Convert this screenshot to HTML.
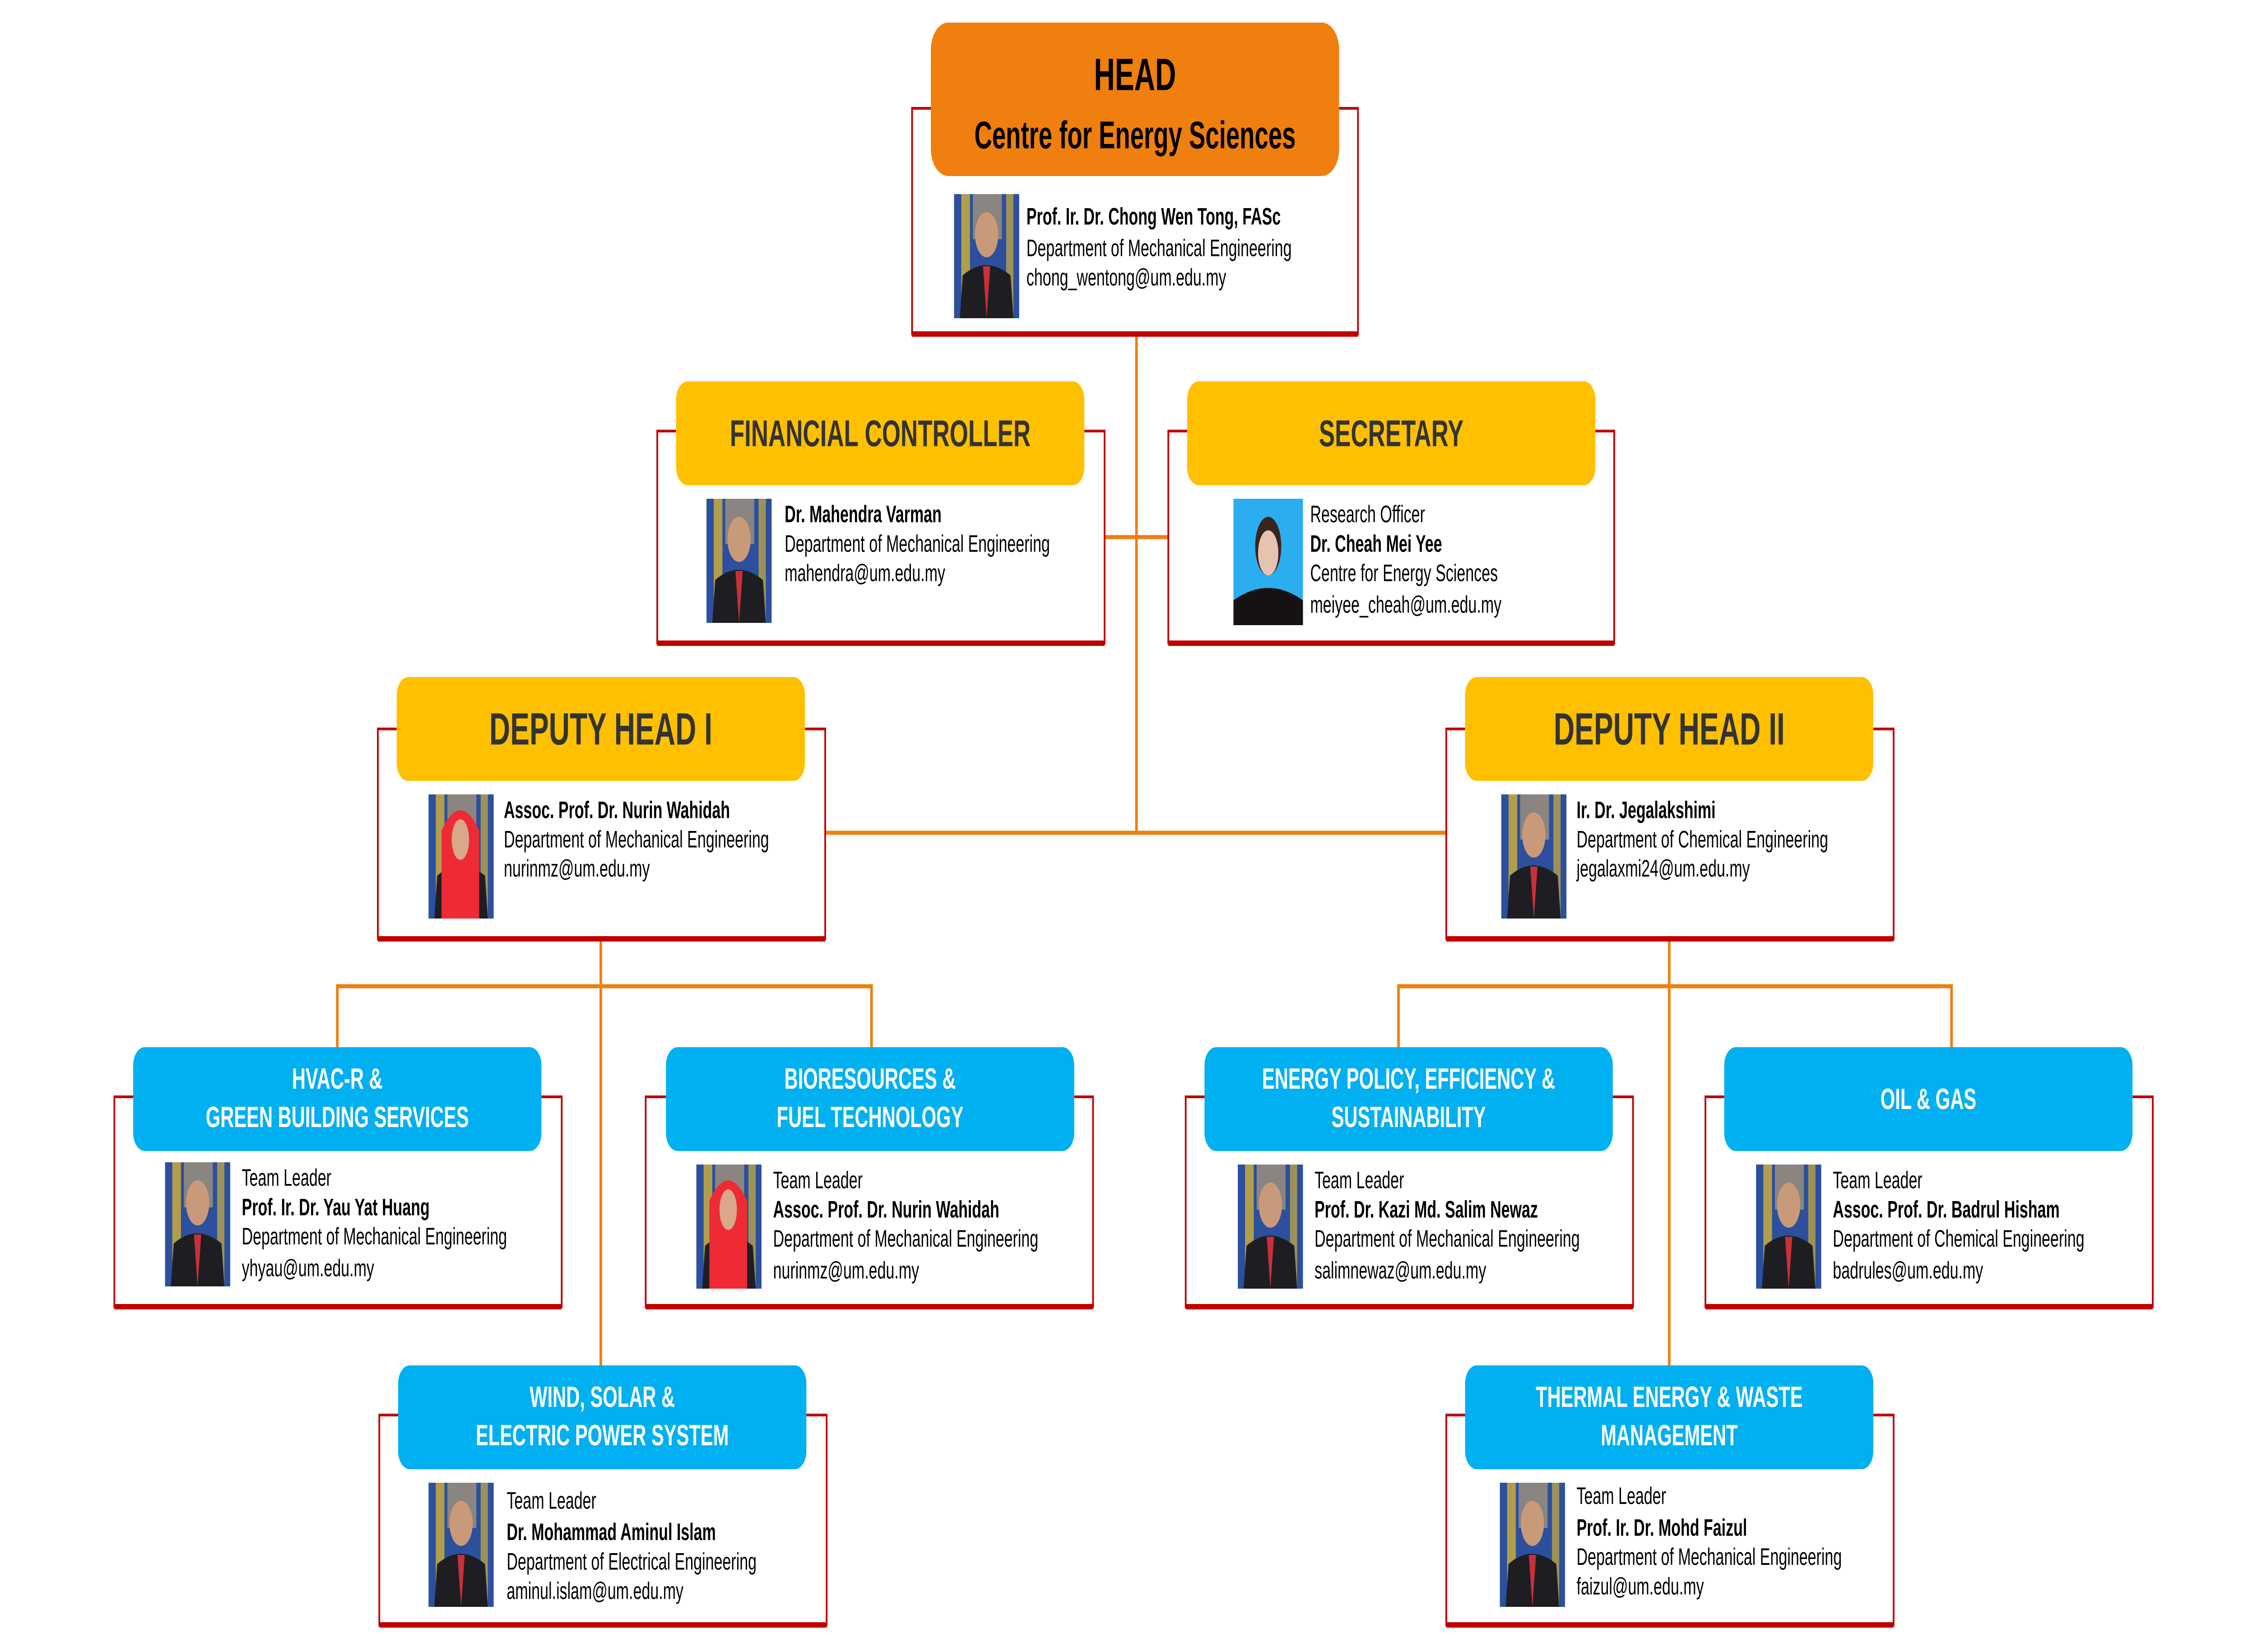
<!DOCTYPE html>
<html><head><meta charset="utf-8">
<style>
html,body{margin:0;padding:0;background:#fff;width:100%;height:100%;overflow:hidden}
svg{display:block;position:fixed;left:0;top:0;width:100vw;height:100vh}
.b{font-family:"Liberation Sans Narrow","Liberation Sans",sans-serif;font-size:10.6px;fill:#000;dominant-baseline:central}
.bb{font-weight:bold}
.t{font-family:"Liberation Sans","Liberation Sans Narrow",sans-serif;font-weight:bold;text-anchor:middle;dominant-baseline:central}
.fr{fill:none;stroke:#C00000;stroke-width:1.2}
.frb{stroke:#C00000;stroke-width:2.4}
.con{stroke:#EE7F0F;stroke-width:1.8;fill:none}
</style></head><body>
<svg viewBox="0 0 1559 732" preserveAspectRatio="none" xmlns="http://www.w3.org/2000/svg">
<defs>
<g id="ph">
<rect x="0" y="0" width="45" height="55" fill="#2c4f9e"/>
<rect x="5" y="0" width="6" height="55" fill="#e8c02a" opacity="0.7"/>
<rect x="36" y="0" width="5" height="55" fill="#e8c02a" opacity="0.6"/>
<rect x="13" y="0" width="20" height="20" fill="#8a8580"/>
<ellipse cx="22.5" cy="18" rx="8" ry="10" fill="#c99a7a"/>
<path d="M4 55 L6 36 Q22 27 39 36 L41 55 Z" fill="#1e1e22"/>
<path d="M20 32 L22.5 55 L25 32 Z" fill="#c8303a"/>
</g>
</defs>
<path class="con" d="M785 148 V369 M763 238 H807 M570 369 H999"/>
<path class="con" d="M415 416 V605 M233 464 V437 H602 V464"/>
<path class="con" d="M1153 416 V605 M966 464 V437 H1348 V464"/>

<path class="fr" d="M643 48 H630 V148 H938 V48 H925"/><line class="frb" x1="630" y1="148" x2="938" y2="148"/>
<rect x="643" y="10" width="282" height="68" rx="12" fill="#EF7F0E"/>
<text class="t" x="784" y="33" font-size="20" fill="#000">HEAD</text>
<text class="t" x="784" y="60" font-size="17" fill="#000">Centre for Energy Sciences</text>
<use href="#ph" x="659" y="86"/>
<text class="b bb" x="709" y="96">Prof. Ir. Dr. Chong Wen Tong, FASc</text>
<text class="b" x="709" y="110">Department of Mechanical Engineering</text>
<text class="b" x="709" y="123">chong_wentong@um.edu.my</text>

<path class="fr" d="M467 191 H454 V285 H763 V191 H749"/><line class="frb" x1="454" y1="285" x2="763" y2="285"/>
<rect x="467" y="169" width="282" height="46" rx="8" fill="#FFC000"/>
<text class="t" x="608" y="192" font-size="16.5" fill="#333">FINANCIAL CONTROLLER</text>
<use href="#ph" x="488" y="221"/>
<text class="b bb" x="542" y="228">Dr. Mahendra Varman</text>
<text class="b" x="542" y="241">Department of Mechanical Engineering</text>
<text class="b" x="542" y="254">mahendra@um.edu.my</text>

<path class="fr" d="M820 191 H807 V285 H1115 V191 H1102"/><line class="frb" x1="807" y1="285" x2="1115" y2="285"/>
<rect x="820" y="169" width="282" height="46" rx="8" fill="#FFC000"/>
<text class="t" x="961" y="192" font-size="16.5" fill="#333">SECRETARY</text>
<rect x="852" y="221" width="48" height="56" fill="#2aaef0"/>
<ellipse cx="876" cy="242" rx="9" ry="13" fill="#3a2420"/>
<ellipse cx="876" cy="245" rx="7" ry="10" fill="#e6c2b0"/>
<path d="M852 277 V266 Q876 255 900 266 V277 Z" fill="#161214"/>
<text class="b" x="905" y="228">Research Officer</text>
<text class="b bb" x="905" y="241">Dr. Cheah Mei Yee</text>
<text class="b" x="905" y="254">Centre for Energy Sciences</text>
<text class="b" x="905" y="268">meiyee_cheah@um.edu.my</text>

<path class="fr" d="M274 323 H261 V416 H570 V323 H556"/><line class="frb" x1="261" y1="416" x2="570" y2="416"/>
<rect x="274" y="300" width="282" height="46" rx="8" fill="#FFC000"/>
<text class="t" x="415" y="323" font-size="20" fill="#333">DEPUTY HEAD I</text>
<use href="#ph" x="296" y="352"/>
<path d="M305 407 V368 Q318 350 331 368 V407 Z" fill="#ee2a35"/>
<ellipse cx="318" cy="372" rx="6" ry="9" fill="#d8a888"/>
<text class="b bb" x="348" y="359">Assoc. Prof. Dr. Nurin Wahidah</text>
<text class="b" x="348" y="372">Department of Mechanical Engineering</text>
<text class="b" x="348" y="385">nurinmz@um.edu.my</text>

<path class="fr" d="M1012 323 H999 V416 H1308 V323 H1294"/><line class="frb" x1="999" y1="416" x2="1308" y2="416"/>
<rect x="1012" y="300" width="282" height="46" rx="8" fill="#FFC000"/>
<text class="t" x="1153" y="323" font-size="20" fill="#333">DEPUTY HEAD II</text>
<use href="#ph" x="1037" y="352"/>
<text class="b bb" x="1089" y="359">Ir. Dr. Jegalakshimi</text>
<text class="b" x="1089" y="372">Department of Chemical Engineering</text>
<text class="b" x="1089" y="385">jegalaxmi24@um.edu.my</text>

<path class="fr" d="M92 486 H79 V579 H388 V486 H374"/><line class="frb" x1="79" y1="579" x2="388" y2="579"/>
<rect x="92" y="464" width="282" height="46" rx="8" fill="#00B0F0"/>
<text class="t" x="233" y="478" font-size="13" fill="#fff">HVAC-R &amp;</text>
<text class="t" x="233" y="495" font-size="13" fill="#fff">GREEN BUILDING SERVICES</text>
<use href="#ph" x="114" y="515"/>
<text class="b" x="167" y="522">Team Leader</text>
<text class="b bb" x="167" y="535">Prof. Ir. Dr. Yau Yat Huang</text>
<text class="b" x="167" y="548">Department of Mechanical Engineering</text>
<text class="b" x="167" y="562">yhyau@um.edu.my</text>

<path class="fr" d="M460 486 H446 V579 H755 V486 H742"/><line class="frb" x1="446" y1="579" x2="755" y2="579"/>
<rect x="460" y="464" width="282" height="46" rx="8" fill="#00B0F0"/>
<text class="t" x="601" y="478" font-size="13" fill="#fff">BIORESOURCES &amp;</text>
<text class="t" x="601" y="495" font-size="13" fill="#fff">FUEL TECHNOLOGY</text>
<use href="#ph" x="481" y="516"/>
<path d="M490 571 V532 Q503 514 516 532 V571 Z" fill="#ee2a35"/>
<ellipse cx="503" cy="536" rx="6" ry="9" fill="#d8a888"/>
<text class="b" x="534" y="523">Team Leader</text>
<text class="b bb" x="534" y="536">Assoc. Prof. Dr. Nurin Wahidah</text>
<text class="b" x="534" y="549">Department of Mechanical Engineering</text>
<text class="b" x="534" y="563">nurinmz@um.edu.my</text>

<path class="fr" d="M832 486 H819 V579 H1128 V486 H1114"/><line class="frb" x1="819" y1="579" x2="1128" y2="579"/>
<rect x="832" y="464" width="282" height="46" rx="8" fill="#00B0F0"/>
<text class="t" x="973" y="478" font-size="13" fill="#fff">ENERGY POLICY, EFFICIENCY &amp;</text>
<text class="t" x="973" y="495" font-size="13" fill="#fff">SUSTAINABILITY</text>
<use href="#ph" x="855" y="516"/>
<text class="b" x="908" y="523">Team Leader</text>
<text class="b bb" x="908" y="536">Prof. Dr. Kazi Md. Salim Newaz</text>
<text class="b" x="908" y="549">Department of Mechanical Engineering</text>
<text class="b" x="908" y="563">salimnewaz@um.edu.my</text>

<path class="fr" d="M1191 486 H1178 V579 H1487 V486 H1473"/><line class="frb" x1="1178" y1="579" x2="1487" y2="579"/>
<rect x="1191" y="464" width="282" height="46" rx="8" fill="#00B0F0"/>
<text class="t" x="1332" y="487" font-size="13" fill="#fff">OIL  &amp; GAS</text>
<use href="#ph" x="1213" y="516"/>
<text class="b" x="1266" y="523">Team Leader</text>
<text class="b bb" x="1266" y="536">Assoc. Prof. Dr. Badrul Hisham</text>
<text class="b" x="1266" y="549">Department of Chemical Engineering</text>
<text class="b" x="1266" y="563">badrules@um.edu.my</text>

<path class="fr" d="M275 627 H262 V720 H571 V627 H557"/><line class="frb" x1="262" y1="720" x2="571" y2="720"/>
<rect x="275" y="605" width="282" height="46" rx="8" fill="#00B0F0"/>
<text class="t" x="416" y="619" font-size="13" fill="#fff">WIND, SOLAR &amp;</text>
<text class="t" x="416" y="636" font-size="13" fill="#fff">ELECTRIC POWER SYSTEM</text>
<use href="#ph" x="296" y="657"/>
<text class="b" x="350" y="665">Team Leader</text>
<text class="b bb" x="350" y="679">Dr. Mohammad Aminul Islam</text>
<text class="b" x="350" y="692">Department of Electrical Engineering</text>
<text class="b" x="350" y="705">aminul.islam@um.edu.my</text>

<path class="fr" d="M1012 627 H999 V720 H1308 V627 H1294"/><line class="frb" x1="999" y1="720" x2="1308" y2="720"/>
<rect x="1012" y="605" width="282" height="46" rx="8" fill="#00B0F0"/>
<text class="t" x="1153" y="619" font-size="13" fill="#fff">THERMAL  ENERGY  &amp; WASTE</text>
<text class="t" x="1153" y="636" font-size="13" fill="#fff">MANAGEMENT</text>
<use href="#ph" x="1036" y="657"/>
<text class="b" x="1089" y="663">Team Leader</text>
<text class="b bb" x="1089" y="677">Prof. Ir. Dr. Mohd Faizul</text>
<text class="b" x="1089" y="690">Department of Mechanical Engineering</text>
<text class="b" x="1089" y="703">faizul@um.edu.my</text>
</svg>
</body></html>
